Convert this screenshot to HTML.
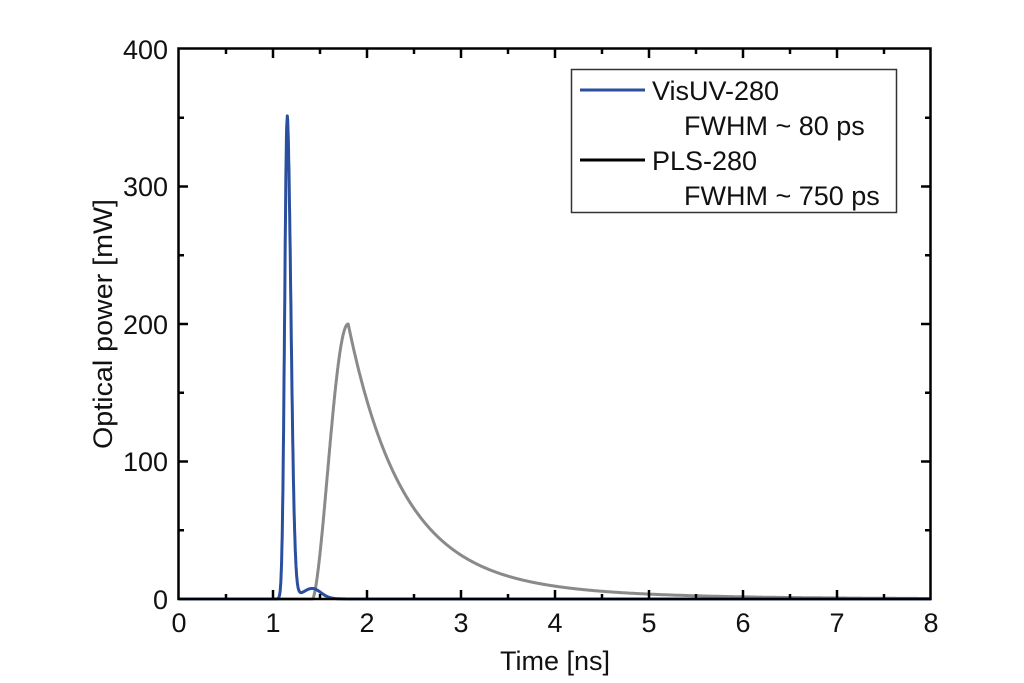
<!DOCTYPE html>
<html><head><meta charset="utf-8"><style>
html,body{margin:0;padding:0;background:#fff;}
svg{display:block;font-family:"Liberation Sans",Arial,sans-serif;}
</style></head><body>
<svg id="s" width="1024" height="683" viewBox="0 0 1024 683" xmlns="http://www.w3.org/2000/svg">
<rect width="1024" height="683" fill="#fff"/>
<g id="curves"></g>
<rect x="178.5" y="48.5" width="752" height="550.5" fill="none" stroke="#000" stroke-width="2.5"/>
<g id="ticks" stroke="#000" stroke-width="2.5"></g>
<g font-size="27" fill="#111" text-anchor="middle">
<text x="179" y="632">0</text><text x="273" y="632">1</text><text x="367" y="632">2</text><text x="461" y="632">3</text>
<text x="555" y="632">4</text><text x="649" y="632">5</text><text x="743" y="632">6</text><text x="837" y="632">7</text><text x="931" y="632">8</text>
</g>
<g font-size="27" fill="#111" text-anchor="end">
<text x="168" y="609">0</text><text x="168" y="471">100</text><text x="168" y="334">200</text><text x="168" y="196">300</text><text x="168" y="59">400</text>
</g>
<text x="555" y="670" font-size="27" fill="#111" text-anchor="middle">Time [ns]</text>
<text transform="translate(112,324) rotate(-90)" font-size="27" fill="#111" text-anchor="middle" textLength="250" lengthAdjust="spacingAndGlyphs">Optical power [mW]</text>
<rect x="571.5" y="69.5" width="325" height="143" fill="#fff" stroke="#333" stroke-width="1.5"/>
<line x1="580" y1="90" x2="645" y2="90" stroke="#2a4f9e" stroke-width="3"/>
<line x1="580" y1="160" x2="645" y2="160" stroke="#000" stroke-width="3"/>
<g font-size="27" fill="#111">
<text x="652" y="100">VisUV-280</text>
<text x="684" y="135">FWHM ~ 80 ps</text>
<text x="652" y="170">PLS-280</text>
<text x="684" y="205">FWHM ~ 750 ps</text>
</g>
</svg>
<script>
var X=function(t){return 179+t*94;},Y=function(v){return 599-v*1.375;};
function gray(t){
 if(t<1.42)return 0;
 if(t<1.8){var u=(t-1.42)/0.38;var s=Math.sin(Math.PI/2*u);return 200*Math.pow(s,1.6);}
 var d=t-1.8;return 200*(0.85*Math.exp(-d/0.55)+0.15*Math.exp(-d/1.4));
}
function blue(t){
 var s=t<1.15?0.026:0.04;var g=348*Math.exp(-Math.pow((t-1.15)/s,2)/2);
 var b=7*Math.exp(-Math.pow((t-1.42)/0.09,2)/2);
 var tail=t>1.15?4*Math.exp(-(t-1.15)/0.15):0;
 return g+b+tail*(t<1.7?1:Math.exp(-(t-1.7)/0.1));
}
function path(f,n){var d="";for(var i=0;i<=n;i++){var t=8*i/n;d+=(i?"L":"M")+X(t).toFixed(1)+","+Y(f(t)).toFixed(1);}return d;}
var ns="http://www.w3.org/2000/svg",c=document.getElementById("curves");
function add(d,col){var p=document.createElementNS(ns,"path");p.setAttribute("d",d);p.setAttribute("fill","none");p.setAttribute("stroke",col);p.setAttribute("stroke-width","3");p.setAttribute("stroke-linejoin","round");c.appendChild(p);}
add(path(gray,3200),"#8a8a8a");
add(path(blue,3200),"#2a4f9e");
var tk=document.getElementById("ticks"),h="";
for(var i=1;i<16;i++){var x=179+i*47,L=(i%2)?5:9;h+='<line x1="'+x+'" y1="599" x2="'+x+'" y2="'+(599-L)+'"/><line x1="'+x+'" y1="49" x2="'+x+'" y2="'+(49+L)+'"/>';}
for(var j=1;j<8;j++){var y=599-j*68.75,L=(j%2)?5:9;h+='<line x1="179" y1="'+y+'" x2="'+(179+L)+'" y2="'+y+'"/><line x1="930" y1="'+y+'" x2="'+(930-L)+'" y2="'+y+'"/>';}
tk.innerHTML=h;
</script>
</body></html>
